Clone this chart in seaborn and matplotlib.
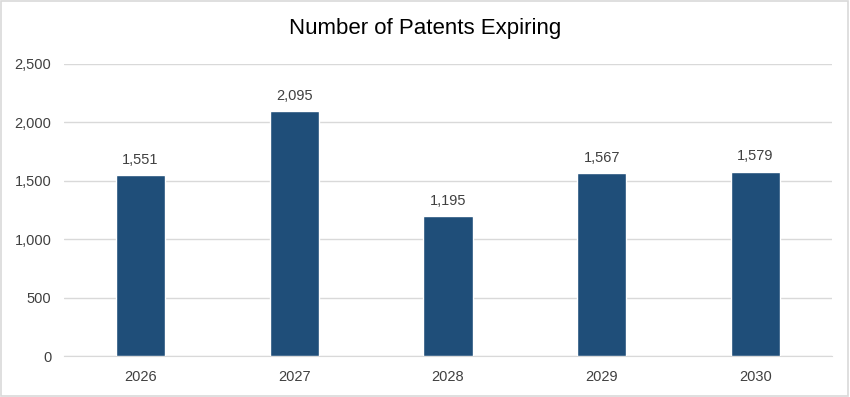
import matplotlib
matplotlib.use('Agg')
import matplotlib.pyplot as plt
import seaborn as sns
import pandas as pd
from matplotlib.ticker import FuncFormatter
from matplotlib.patches import Rectangle

# 데이터
years = ['2026', '2027', '2028', '2029', '2030']
patents = [1551, 2095, 1195, 1567, 1579]
y_ticks = [0, 500, 1000, 1500, 2000, 2500]

df = pd.DataFrame({'year': years, 'patents': patents})

sns.set_style('white')
plt.rcParams['font.family'] = ['Liberation Sans', 'DejaVu Sans']

fig = plt.figure(figsize=(8.5, 3.97), dpi=100)
ax = fig.add_axes([0.075, 0.103, 0.904, 0.736])

sns.barplot(data=df, x='year', y='patents', color='#1F4E79', width=0.32,
            saturation=1, ax=ax, zorder=3)

for i, v in enumerate(patents):
    ax.text(i, v + 70, f"{v:,}", ha='center', va='bottom', fontsize=10.5, color='#404040')

ax.set_ylim(0, 2500)
ax.set_yticks(y_ticks)
ax.yaxis.set_major_formatter(FuncFormatter(lambda v, p: f"{int(v):,}"))
ax.yaxis.grid(True, color='#D9D9D9', linewidth=1, zorder=0)
ax.set_xlabel('')
ax.set_ylabel('')
for s in ['top', 'right', 'left']:
    ax.spines[s].set_visible(False)
ax.spines['bottom'].set_color('#D9D9D9')
ax.tick_params(axis='both', length=0, labelsize=10.5, colors='#404040')
ax.tick_params(axis='x', pad=10)
ax.tick_params(axis='y', pad=9)

fig.text(0.5, 0.929, 'Number of Patents Expiring', ha='center', va='center',
         fontsize=16, color='#000000')

# 바깥 테두리
fig.patches.append(Rectangle((0.001, 0.002), 0.997, 0.995, transform=fig.transFigure,
                             fill=False, edgecolor='#D9D9D9', linewidth=1.2))

plt.savefig('out.png', dpi=100)
